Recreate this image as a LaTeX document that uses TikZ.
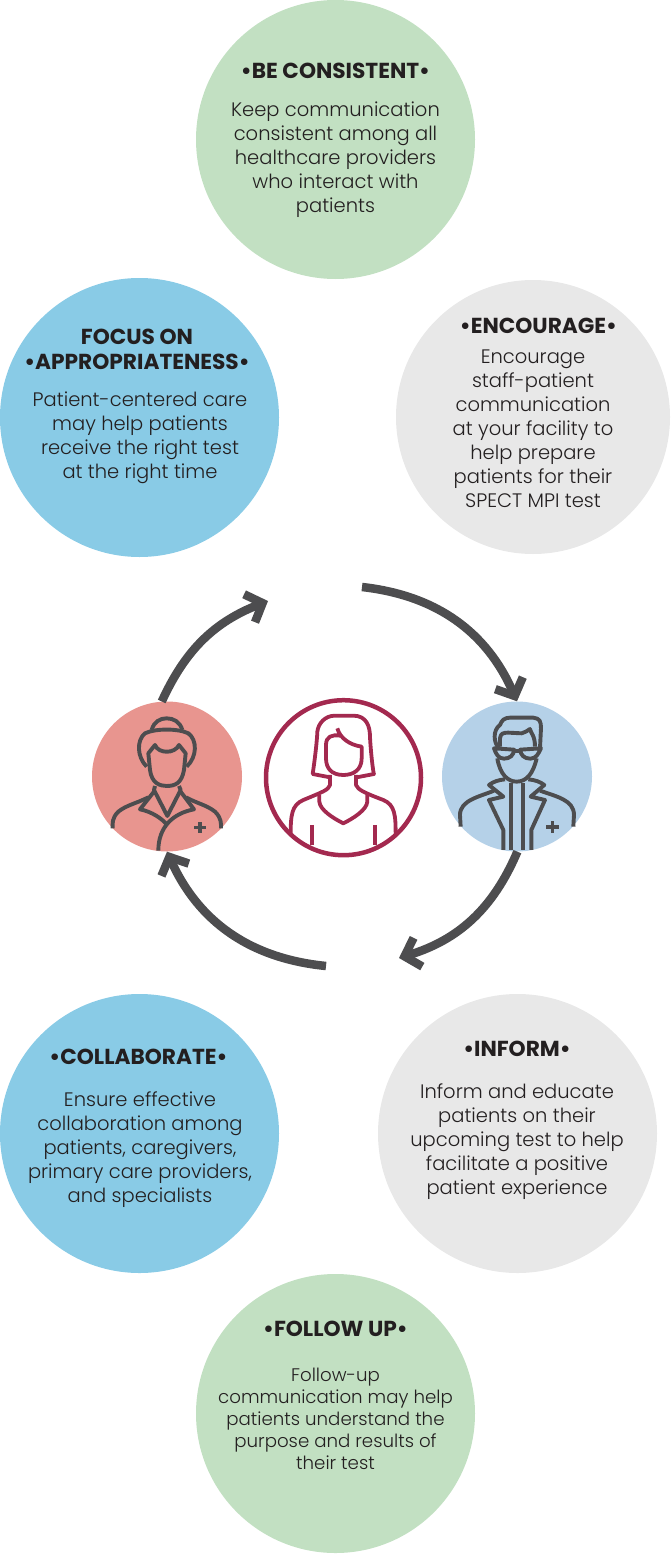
\documentclass[tikz,border=0pt]{standalone}
\usepackage{fontspec}
\setmainfont{Poppins}[UprightFont=* Light,BoldFont=* Bold]
\usetikzlibrary{positioning,arrows.meta}
\definecolor{bubblegreen}{HTML}{C2E0C2}
\definecolor{bubbleblue}{HTML}{89CBE6}
\definecolor{bubblegrey}{HTML}{E8E8E8}
\definecolor{nursered}{HTML}{E8958F}
\definecolor{doctorblue}{HTML}{B5D1E8}
\definecolor{maroon}{HTML}{A3294F}
\definecolor{iconline}{HTML}{4D4D4F}
\definecolor{inktext}{HTML}{231F20}
\begin{document}
\begin{tikzpicture}[
            x=1pt,y=-1pt,
            bubble/.style={circle,minimum size=279pt,inner sep=0pt},
            person/.style={circle,minimum size=150pt,inner sep=0pt},
            title/.style={align=center,inner sep=0pt,text=inktext,font=\fontsize{21.7}{25}\selectfont\bfseries},
            body/.style={align=center,inner sep=0pt,text=inktext,font=\fontsize{19.5}{24}\selectfont},
            cycle/.style={line width=8.5pt,iconline,-{Straight Barb[length=14pt,width=30pt]}},
            icon/.style={line width=3.9pt,iconline,line join=round},
            womanline/.style={line width=3.8pt,maroon,line join=round}
        ]
            \useasboundingbox (0,0) rectangle (670,1554);

            % outer bubbles
            \node[bubble,fill=bubblegreen] (consistent) at (335.5,139.5) {};
            \node[bubble,fill=bubbleblue] (focus) at (139.5,417.5) {};
            \node[bubble,fill=bubblegrey,minimum size=274pt] (encourage) at (533,417) {};
            \node[bubble,fill=bubbleblue] (collaborate) at (139.5,1133.5) {};
            \node[bubble,fill=bubblegrey] (inform) at (517.5,1133.5) {};
            \node[bubble,fill=bubblegreen] (followup) at (335.5,1413.5) {};

            \node[title] (consistenttitle) at (335.5,71) {•BE CONSISTENT•};
            \node[body,below=23pt of consistenttitle] (consistenttext) {Keep communication\\consistent among all\\healthcare providers\\who interact with\\patients};
            \node[title] (focustitle) at (137,349.5) {FOCUS ON\\•APPROPRIATENESS•};
            \node[body,below=22pt of focustitle,xshift=3pt] (focustext) {Patient-centered care\\may help patients\\receive the right test\\at the right time};
            \node[title] (encouragetitle) at (538.5,326) {•ENCOURAGE•};
            \node[body,below=16pt of encouragetitle,xshift=-5.5pt] (encouragetext) {Encourage\\staff-patient\\communication\\at your facility to\\help prepare\\patients for their\\SPECT MPI test};
            \node[title] (collaboratetitle) at (138.5,1057) {•COLLABORATE•};
            \node[body,below=27pt of collaboratetitle,xshift=1.5pt] (collaboratetext) {Ensure effective\\collaboration among\\patients, caregivers,\\primary care providers,\\and specialists};
            \node[title] (informtitle) at (517,1049) {•INFORM•};
            \node[body,below=27pt of informtitle] (informtext) {Inform and educate\\patients on their\\upcoming test to help\\facilitate a positive\\patient experience};
            \node[title] (followuptitle) at (335.5,1329) {•FOLLOW UP•};
            \node[body,below=31pt of followuptitle,font=\fontsize{18.2}{22}\selectfont] (followuptext) {Follow-up\\communication may help\\patients understand the\\purpose and results of\\their test};

            % people
            \node[person,fill=nursered] (nurse) at (167,776.5) {};
            \node[person,fill=doctorblue] (doctor) at (517,776.5) {};
            \node[circle,draw=maroon,line width=4.5pt,minimum size=155pt,inner sep=0pt] (patient) at (343.5,777.7) {};

            % cycle arrows
            \coordinate (tiptop) at (268,601);
            \coordinate (startright) at (362,587);
            \coordinate (tipbottom) at (399,958);
            \coordinate (startleft) at (326,966);
            \draw[cycle] (nurse.94) to[bend left=22] (tiptop);
            \draw[cycle] (startright) to[bend left=30] (doctor.north);
            \draw[cycle] (doctor.-92) ++(3,0) to[bend left=25] (tipbottom);
            \draw[cycle] (startleft) to[bend left=30] (nurse.south);

            % nurse
            \begin{scope}[shift={(80,570)},x=0.3333pt,y=-0.3333pt,icon]
                \draw (215,480) .. controls (222,455) and (240,445) .. (260,445) .. controls (280,445) and (300,455) .. (307,480);
                \draw (200,590) .. controls (170,560) and (170,510) .. (195,490) .. controls (225,475) and (295,475) .. (325,490) .. controls (352,510) and (352,560) .. (320,590);
                \draw (205,550) -- (225,525) .. controls (235,552) and (285,552) .. (297,525) -- (317,550) -- (312,600) .. controls (305,640) and (285,648) .. (260,648) .. controls (240,648) and (215,640) .. (210,600) -- cycle;
                \draw (225,648) -- (222,660) -- (262,738) -- (302,660) -- (297,648);
                \draw (222,665) -- (180,718) .. controls (215,725) and (245,745) .. (262,765);
                \draw (302,665) -- (342,718) .. controls (280,730) and (235,770) .. (235,842);
                \draw (205,682) .. controls (170,700) and (140,705) .. (115,725) .. controls (95,745) and (98,760) .. (98,775);
                \draw (318,682) .. controls (350,700) and (380,705) .. (405,725) .. controls (425,745) and (423,760) .. (423,775);
                \fill[iconline] (355,755) rectangle (366,789);
                \fill[iconline] (343,767) rectangle (379,778);
            \end{scope}

            % doctor
            \begin{scope}[shift={(340,570)},x=0.3333pt,y=-0.3333pt,icon]
                \draw (478,535) .. controls (460,520) and (458,480) .. (480,465) .. controls (485,450) and (495,443) .. (510,443) -- (580,443) .. controls (600,445) and (603,455) .. (603,475) -- (600,535);
                \draw (480,530) -- (480,505) .. controls (482,490) and (490,488) .. (505,488) -- (545,490) .. controls (555,488) and (562,482) .. (570,477) .. controls (572,490) and (585,495) .. (585,530);
                \draw (462,535) -- (522,539) .. controls (522,555) and (510,566) .. (492,566) .. controls (475,566) and (468,552) .. (462,535) -- cycle;
                \draw (603,535) -- (541,539) .. controls (541,555) and (553,566) .. (571,566) .. controls (588,566) and (595,552) .. (603,535) -- cycle;
                \draw (522,542) -- (541,542);
                \draw (472,565) .. controls (480,615) and (505,635) .. (530,635) .. controls (560,635) and (580,610) .. (590,565);
                \draw (495,628) .. controls (475,630) and (460,635) .. (447,645) -- (490,680) -- (447,690) -- (490,780) -- (490,840);
                \draw (565,628) .. controls (585,630) and (600,635) .. (613,645) -- (572,680) -- (615,690) -- (574,780) -- (574,840);
                \draw (512,840) -- (512,640);
                \draw (550,840) -- (550,640);
                \draw (462,662) .. controls (420,680) and (360,690) .. (360,735) -- (362,770);
                \draw (600,662) .. controls (650,680) and (702,690) .. (702,735) -- (700,770);
                \fill[iconline] (632,753) rectangle (643,788);
                \fill[iconline] (619,765) rectangle (656,776);
            \end{scope}

            % patient
            \begin{scope}[shift={(260,695)},x=0.3333pt,y=-0.3333pt,womanline]
                \draw (210,247) -- (158,237) .. controls (168,170) and (172,120) .. (172,110) .. controls (175,85) and (195,62) .. (225,62) -- (280,62) .. controls (320,62) and (330,95) .. (330,125) .. controls (332,170) and (340,237) .. (342,237) -- (290,247);
                \draw (232,100) .. controls (240,130) and (270,150) .. (305,155) -- (305,190) .. controls (305,225) and (280,240) .. (250,240) .. controls (215,240) and (198,220) .. (198,190) -- (198,150) .. controls (198,125) and (215,118) .. (240,122);
                \draw (210,240) -- (210,270) .. controls (205,285) and (190,290) .. (130,315) .. controls (95,330) and (92,360) .. (92,420);
                \draw (288,240) -- (288,270) .. controls (295,285) and (310,292) .. (370,315) .. controls (405,330) and (407,360) .. (407,420);
                \draw (178,300) -- (178,320) .. controls (180,345) and (220,370) .. (250,385) .. controls (280,370) and (320,345) .. (322,320) -- (322,300);
                \draw (155,390) -- (155,450);
                \draw (345,390) -- (345,450);
            \end{scope}
        \end{tikzpicture}
\end{document}
